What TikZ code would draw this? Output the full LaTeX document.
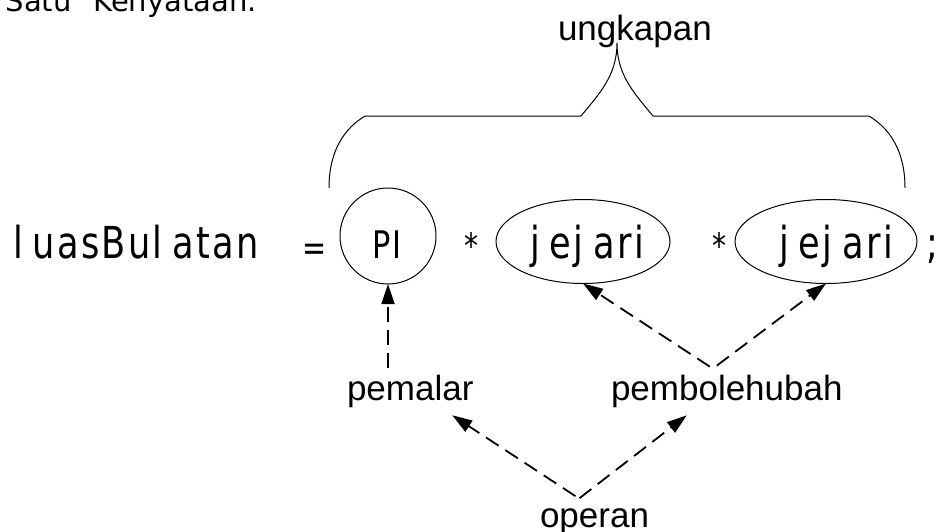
\documentclass[tikz,border=0pt]{standalone}
\usepackage{fontspec}
\setmainfont{DejaVu Sans}
\newfontfamily\labelfont{Liberation Sans}
\newfontfamily\codefont[FakeStretch=0.8]{DejaVu Sans}
\usetikzlibrary{arrows.meta,shapes.geometric}

% code words: a little tracking after every letter, and a wider gap after l and j
\makeatletter
\def\cw@l{l}
\def\cw@j{j}
\newcommand\codeword[1]{\@tfor\cw@ch:=#1\do{\cw@ch\kern2.2pt
  \ifx\cw@ch\cw@l\kern8pt\fi\ifx\cw@ch\cw@j\kern8pt\fi}}
\makeatother

\begin{document}
\begin{tikzpicture}[x=1pt,y=-1pt,
  outline/.style={draw=black, line width=1pt, inner sep=0pt, outer sep=0pt},
  code/.style={font=\codefont\fontsize{44}{50}\selectfont, inner sep=0pt, outer sep=0pt, anchor=base west},
  sym/.style={font=\codefont\fontsize{#1}{40}\selectfont, inner sep=0pt, outer sep=0pt, anchor=base},
  tag/.style={font=\labelfont\fontsize{35}{40}\selectfont, inner sep=0pt, outer sep=0pt, anchor=base west},
  link/.style={line width=1.8pt, dash pattern=on 15pt off 8pt,
               -{Triangle[length=20pt,width=13pt]}},
  brace/.style={line width=1pt, line join=round}
]
\useasboundingbox (0,0) rectangle (944,531);
\clip (0,0) rectangle (944,531);

% heading line, partly above the page
\node[font=\fontsize{29}{34}\selectfont, inner sep=0pt, anchor=base east] (head) at (257,11)
  {{\spaceskip=22pt Satu Kenyataan.}};

% brace over the expression
\node[tag] (ung) at (558,40) {ungkapan};
\draw[brace] (329,188) .. controls (329,150) and (345,128) .. (365,116)
  -- (581,116) .. controls (600,93) and (617,75) .. (617,43)
  .. controls (617,75) and (634,93) .. (653,116)
  -- (869,116) .. controls (889,128) and (905,150) .. (905,188);

% the statement
\node[code] (lhs) at (13,258) {\codeword{luasBulatan}};
\node[sym=36] (eq) at (315,260) {=};
\node[outline, circle, minimum size=96pt] (pi) at (388,236) {};
\node[code, font=\codefont\fontsize{38}{44}\selectfont] (pitext) at (372,258) {\codeword{PI}};
\node[sym=35] (times1) at (471,258) {*};
\node[outline, ellipse, minimum width=174pt, minimum height=84pt] (e1) at (583,241.5) {};
\node[code] (j1) at (530,258) {\codeword{jejari}};
\node[sym=35] (times2) at (719,258) {*};
\node[outline, ellipse, minimum width=182pt, minimum height=84pt] (e2) at (826,241.5) {};
\node[code] (j2) at (779,258) {\codeword{jejari}};
\node[sym=44] (semi) at (932.5,258) {;};

% operand categories
\node[tag] (pm) at (347,400) {pemalar};
\node[tag] (pb) at (611,400) {pembolehubah};
\node[tag] (op) at (540,527) {operan};

\draw[link, shorten <=7pt] (pi.south |- pm.north) -- (pi.south);
\draw[link] ([xshift=-17pt,yshift=8pt]pb.north) -- (e1.south);
\draw[link] ([xshift=-10pt,yshift=9pt]pb.north) -- (e2.south);
\draw[link] ([xshift=-19pt,yshift=12pt]op.north) -- ([xshift=42pt,yshift=-8pt]pm.south);
\draw[link] ([xshift=-15pt,yshift=10pt]op.north) -- ([xshift=-40pt,yshift=-8pt]pb.south);
\end{tikzpicture}
\end{document}
